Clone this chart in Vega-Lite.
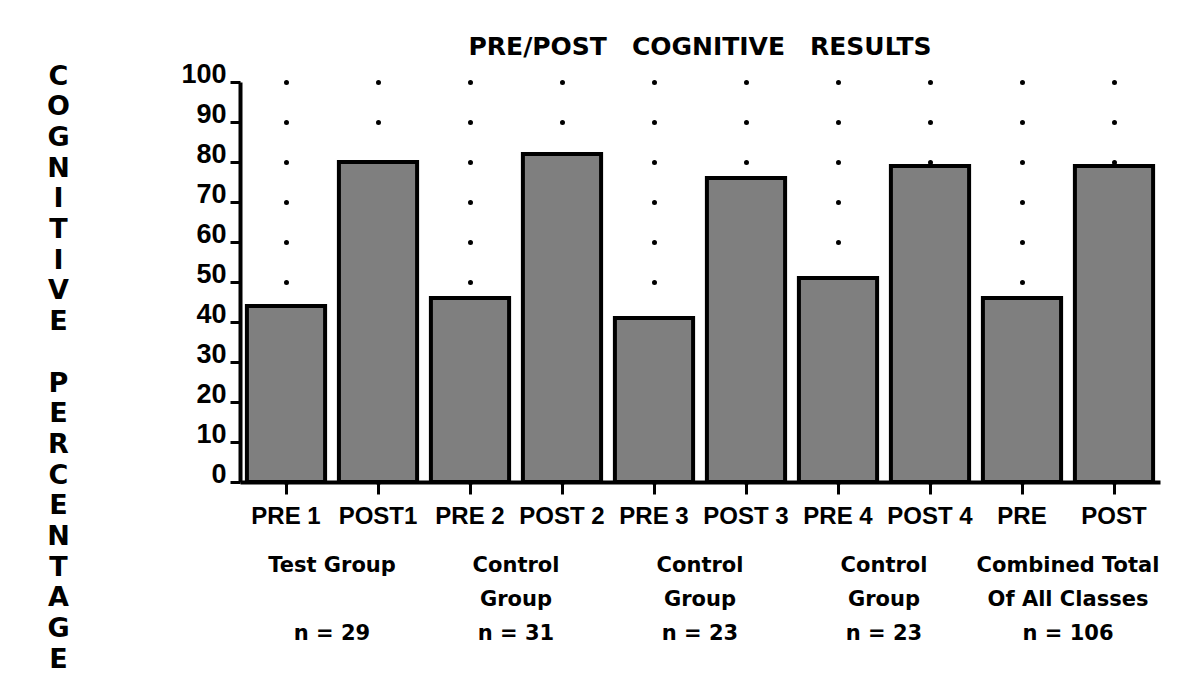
{
  "$schema": "https://vega.github.io/schema/vega-lite/v6.json",
  "width": 920,
  "height": 400,
  "autosize": {"type": "none"},
  "padding": {"left": 240, "top": 82, "right": 41, "bottom": 198},
  "background": "white",
  "title": {"text": "PRE/POST\u2003COGNITIVE\u2003RESULTS", "font": "DejaVu Sans", "fontWeight": "bold", "fontSize": 25, "anchor": "middle", "frame": "group", "offset": 0, "color": "black"},
  "data": {"values": [
    {"label": "PRE 1", "value": 44, "group": "1|Test Group|\u2800|n = 29"},
    {"label": "POST1", "value": 80, "group": "1|Test Group|\u2800|n = 29"},
    {"label": "PRE 2", "value": 46, "group": "2|Control|Group|n = 31"},
    {"label": "POST 2", "value": 82, "group": "2|Control|Group|n = 31"},
    {"label": "PRE 3", "value": 41, "group": "3|Control|Group|n = 23"},
    {"label": "POST 3", "value": 76, "group": "3|Control|Group|n = 23"},
    {"label": "PRE 4", "value": 51, "group": "4|Control|Group|n = 23"},
    {"label": "POST 4", "value": 79, "group": "4|Control|Group|n = 23"},
    {"label": "PRE", "value": 46, "group": "5|Combined Total|Of All Classes|n = 106"},
    {"label": "POST", "value": 79, "group": "5|Combined Total|Of All Classes|n = 106"}
  ]},
  "encoding": {
    "y": {
      "field": "value", "type": "quantitative", "stack": null,
      "scale": {"domain": [0, 100], "nice": false},
      "axis": {
        "title": ["C","O","G","N","I","T","I","V","E","\u2800","P","E","R","C","E","N","T","A","G","E"],
        "titleAngle": 0, "titleFont": "DejaVu Sans", "titleFontWeight": "bold", "titleFontSize": 27,
        "titleLineHeight": 30.7, "titleAlign": "center", "titleBaseline": "top",
        "titleX": -182, "titleY": -19, "titleColor": "black", "titleLimit": 0,
        "values": [0, 10, 20, 30, 40, 50, 60, 70, 80, 90, 100],
        "labelFont": "Liberation Sans", "labelFontWeight": "bold", "labelFontSize": 27, "labelColor": "black",
        "labelBaseline": "alphabetic", "labelPadding": 4,
        "tickSize": 10, "tickColor": "black", "tickWidth": 3,
        "domainColor": "black", "domainWidth": 4, "grid": false
      }
    }
  },
  "layer": [
    {
      "mark": {"type": "bar", "fill": "#7f7f7f", "stroke": "black", "strokeWidth": 4},
      "encoding": {
        "x": {
          "field": "label", "type": "nominal", "sort": null,
          "scale": {"paddingInner": 0.15, "paddingOuter": 0.075},
          "axis": {
            "title": null, "orient": "bottom", "labelAngle": 0,
            "labelFont": "Liberation Sans", "labelFontWeight": "bold", "labelFontSize": 24, "labelColor": "black",
            "labelPadding": 10, "labelOverlap": false, "labelBound": false, "labelLimit": 0,
            "domainColor": "black", "domainWidth": 4,
            "tickColor": "black", "tickWidth": 3, "tickSize": 12,
            "grid": true, "gridColor": "black", "gridWidth": 5, "gridCap": "round", "gridDash": [0.001, 39.99], "gridOpacity": 1
          }
        }
      }
    },
    {
      "mark": {"type": "bar", "opacity": 0},
      "encoding": {
        "x": {
          "field": "group", "type": "nominal", "sort": null,
          "axis": {
            "title": null, "orient": "bottom", "offset": 72, "labelAngle": 0,
            "labelExpr": "slice(split(datum.label, '|'), 1)",
            "labelFont": "DejaVu Sans", "labelFontWeight": "bold", "labelFontSize": 21, "labelColor": "black",
            "labelLineHeight": 34, "labelPadding": 0, "labelBaseline": "top",
            "labelOverlap": false, "labelBound": false, "labelLimit": 0,
            "grid": false, "ticks": false, "domain": false
          }
        }
      }
    }
  ],
  "resolve": {"scale": {"x": "independent"}, "axis": {"x": "independent"}},
  "config": {"view": {"stroke": null}}
}
